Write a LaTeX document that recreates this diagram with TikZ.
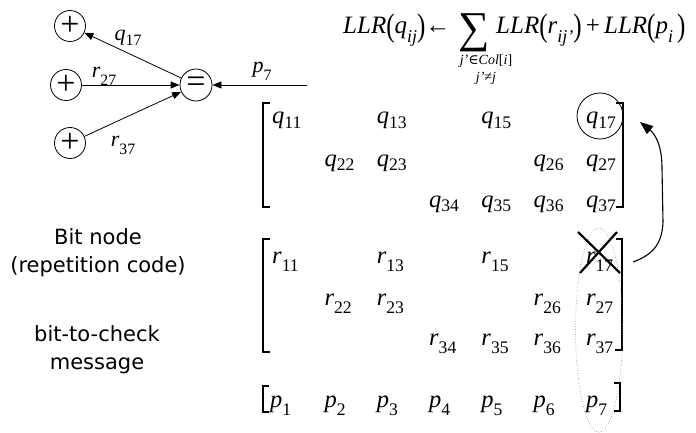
\documentclass[tikz,border=0pt]{standalone}
\usepackage{fontspec}
\usepackage{graphicx}
\setmainfont{Liberation Serif}
\newfontfamily\sansf{DejaVu Sans}
\newfontfamily\symf{DejaVu Serif}
\usetikzlibrary{arrows.meta,shapes.geometric}
\newcommand\qv[2]{\textit{#1}\raisebox{-0.2em}{\scalebox{0.72}{#2}}}
\newcommand\rv[2]{\textit{#1}\raisebox{-0.36em}{\scalebox{0.72}{#2}}}
\newcommand\bigp[1]{\raisebox{-0.12em}{\scalebox{1}[1.3]{#1}}}
\begin{document}
\begin{tikzpicture}[x=1pt,y=-1pt,
  ent/.style={anchor=base west,inner sep=0pt,font=\fontsize{24.5}{24.5}\selectfont},
  xorn/.style={circle,draw,line width=0.8pt,minimum size=31pt,inner sep=0pt,font=\fontsize{34}{34}\selectfont},
  conn/.style={line width=0.8pt,-{Triangle[length=9pt,width=7pt]}},
  lab/.style={inner sep=0pt,font=\fontsize{22}{22}\selectfont},
  brk/.style={line width=1.5pt},
  side/.style={align=center,inner sep=0pt,font=\sansf\fontsize{21}{28}\selectfont},
  subs/.style={inner sep=0pt,font=\fontsize{14}{14}\selectfont}]
\useasboundingbox (0,0) rectangle (696,433);
% factor graph
\node[xorn] (x1) at (70,26) {+};
\node[xorn] (x2) at (66,85) {+};
\node[xorn] (x3) at (70,143) {+};
\node[xorn,minimum size=32pt] (eq) at (196,85) {=};
\coordinate (pin) at (307,85);
\draw[conn] (eq) -- (x1);
\draw[conn] (x2) -- (eq);
\draw[conn] (x3) -- (eq);
\draw[conn] (pin) -- (eq);
\node[lab] (l1) at (128,38) {\qv{q}{17}};
\node[lab] (l2) at (104,76) {\rv{r}{27}};
\node[lab] (l3) at (123,145) {\rv{r}{37}};
\node[lab] (l4) at (262,71) {\rv{p}{7}};
% formula
\node[anchor=base west,inner sep=0pt,font=\fontsize{25}{25}\selectfont] (f1) at (343,34)
  {\textit{LLR}\bigp{(}\rv{q}{\textit{ij}}\bigp{)}←};
\node[inner sep=0pt,font=\fontsize{44}{44}\selectfont] (sum) at (474,33) {∑};
\node[subs] (s1) at (486,61) {\textit{j'}{\symf∈}\textit{Col}[\textit{i}]};
\node[subs] (s2) at (486,78) {\textit{j'}≠\textit{j}};
\node[anchor=base west,inner sep=0pt,font=\fontsize{25}{25}\selectfont] (f2) at (496,34)
  {\textit{LLR}\bigp{(}\rv{r}{\textit{ij'}}\bigp{)}\,+\,\textit{LLR}\bigp{(}\rv{p}{\textit{i}}\,\bigp{)}};
% side labels
\node[side] (t1) at (98,253) {Bit node\\(repetition code)};
\node[side] (t2) at (97,350) {bit-to-check\\message};
% q matrix
\node[ent] (q11) at (272,124) {\qv{q}{11}};
\node[ent] (q13) at (376.6,124) {\qv{q}{13}};
\node[ent] (q15) at (481.2,124) {\qv{q}{15}};
\node[ent] (q17) at (585.8,124) {\qv{q}{17}};
\node[ent] (q22) at (324.3,166) {\qv{q}{22}};
\node[ent] (q23) at (376.6,166) {\qv{q}{23}};
\node[ent] (q26) at (533.5,166) {\qv{q}{26}};
\node[ent] (q27) at (585.8,166) {\qv{q}{27}};
\node[ent] (q34) at (428.9,207) {\qv{q}{34}};
\node[ent] (q35) at (481.2,207) {\qv{q}{35}};
\node[ent] (q36) at (533.5,207) {\qv{q}{36}};
\node[ent] (q37) at (585.8,207) {\qv{q}{37}};
\draw[brk] (270,103) -- (263,103) -- (263,207) -- (270,207);
\draw[brk] (616,103) -- (623,103) -- (623,207) -- (616,207);
\node[circle,draw,line width=0.8pt,minimum size=46pt,inner sep=0pt] (q17c) at (600,116) {};
% r matrix
\node[ent] (r11) at (272,263) {\rv{r}{11}};
\node[ent] (r13) at (376.6,263) {\rv{r}{13}};
\node[ent] (r15) at (481.2,263) {\rv{r}{15}};
\node[ent] (r17) at (585.8,263) {\rv{r}{17}};
\node[ent] (r22) at (324.3,305) {\rv{r}{22}};
\node[ent] (r23) at (376.6,305) {\rv{r}{23}};
\node[ent] (r26) at (533.5,305) {\rv{r}{26}};
\node[ent] (r27) at (585.8,305) {\rv{r}{27}};
\node[ent] (r34) at (428.9,345) {\rv{r}{34}};
\node[ent] (r35) at (481.2,345) {\rv{r}{35}};
\node[ent] (r36) at (533.5,345) {\rv{r}{36}};
\node[ent] (r37) at (585.8,345) {\rv{r}{37}};
\draw[brk] (270,239) -- (263,239) -- (263,352) -- (270,352);
\draw[brk] (616,239) -- (622,239) -- (622,350) -- (615,350);
% p row
\node[ent] (p1) at (270,407) {\rv{p}{1}};
\node[ent] (p2) at (324.3,407) {\rv{p}{2}};
\node[ent] (p3) at (376.6,407) {\rv{p}{3}};
\node[ent] (p4) at (428.9,407) {\rv{p}{4}};
\node[ent] (p5) at (481.2,407) {\rv{p}{5}};
\node[ent] (p6) at (533.5,407) {\rv{p}{6}};
\node[ent] (p7) at (585.8,407) {\rv{p}{7}};
\draw[brk] (269,386) -- (263,386) -- (263,412) -- (269,412);
\draw[brk] (614,383) -- (620,383) -- (620,411) -- (614,411);
% dotted ellipse and cross
\node[ellipse,draw=gray,dotted,line width=0.6pt,minimum width=47pt,minimum height=204pt,inner sep=0pt] (col7) at (599,330) {};
\draw[line width=2.2pt] (578,232) -- (620,273);
\draw[line width=2.2pt] (617,232) -- (580,273);
% curved arrow
\coordinate (cs) at (633,262);
\coordinate (ce) at (640,122);
\draw[line width=1.1pt,-{Triangle[length=13pt,width=10pt]}] (cs) .. controls (652,255) and (662,245) .. (663,222) -- (662,168) .. controls (662,145) and (655,134) .. (ce);
\end{tikzpicture}
\end{document}
